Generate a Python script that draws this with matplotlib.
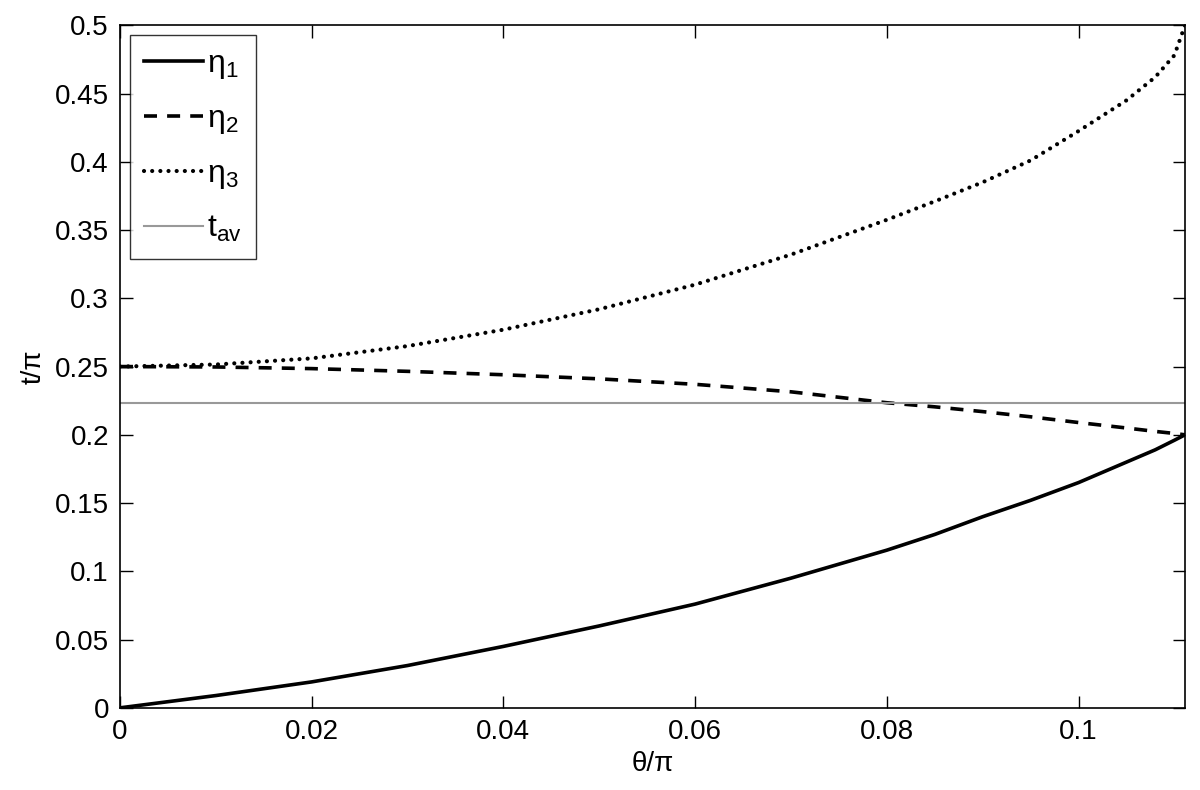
import matplotlib
matplotlib.use("Agg")
import matplotlib.pyplot as plt

plt.rcParams["font.family"] = ["Liberation Sans", "DejaVu Sans"]
plt.rcParams["mathtext.fontset"] = "custom"
plt.rcParams["mathtext.rm"] = "Liberation Sans"
plt.rcParams["mathtext.it"] = "Liberation Sans:italic"

# theta/pi samples
theta = [0.0, 0.01, 0.02, 0.03, 0.04, 0.05, 0.06, 0.07, 0.08, 0.085, 0.09, 0.095,
         0.1, 0.105, 0.108, 0.11, 1 / 9]
eta1 = [0.0, 0.009, 0.019, 0.031, 0.045, 0.060, 0.076, 0.095, 0.1155, 0.127, 0.140, 0.152,
        0.165, 0.180, 0.189, 0.196, 0.200]
eta2 = [0.25, 0.2497, 0.2485, 0.2465, 0.244, 0.241, 0.237, 0.2315, 0.2235, 0.2205, 0.217, 0.2132,
        0.209, 0.205, 0.2025, 0.201, 0.200]
eta3 = [0.25, 0.2515, 0.256, 0.265, 0.277, 0.292, 0.310, 0.332, 0.3575, 0.371, 0.385, 0.401,
        0.4225, 0.445, 0.462, 0.478, 0.500]
t_av = 0.2233

fig = plt.figure(figsize=(12, 7.9), dpi=100)
ax = fig.add_axes([0.1, 0.104, 0.8875, 0.864])

ax.plot(theta, eta1, color="black", lw=2.6, label="η$_1$")
ax.plot(theta, eta2, color="black", lw=2.6, ls=(0, (3.6, 2.8)), label="η$_2$")
ax.plot(theta, eta3, color="black", lw=3.0, ls=(0, (0.01, 1.95)), dash_capstyle="round",
        label="η$_3$")
ax.axhline(t_av, color="#999999", lw=1.5, label=r"t$_{\mathrm{av}}$")

ax.set_xlim(0, 1 / 9)
ax.set_ylim(0, 0.5)
ax.set_xticks([0, 0.02, 0.04, 0.06, 0.08, 0.1])
ax.set_xticklabels(["0", "0.02", "0.04", "0.06", "0.08", "0.1"])
ax.set_yticks([0, 0.05, 0.1, 0.15, 0.2, 0.25, 0.3, 0.35, 0.4, 0.45, 0.5])
ax.set_yticklabels(["0", "0.05", "0.1", "0.15", "0.2", "0.25", "0.3", "0.35", "0.4", "0.45", "0.5"])
ax.tick_params(direction="in", length=9, width=1, top=True, right=True, labelsize=20, pad=8)
for s in ax.spines.values():
    s.set_linewidth(1.2)

ax.set_xlabel("θ/π", fontsize=20, labelpad=4)
ax.set_ylabel("t/π", fontsize=20, labelpad=6)

leg = ax.legend(loc="upper left", fontsize=23, handlelength=1.85, handletextpad=0.12,
                borderaxespad=0.3, labelspacing=0.72, fancybox=False, borderpad=0.45)
leg.get_frame().set_edgecolor("black")
leg.get_frame().set_linewidth(1.0)

fig.savefig("out.png", dpi=100)
